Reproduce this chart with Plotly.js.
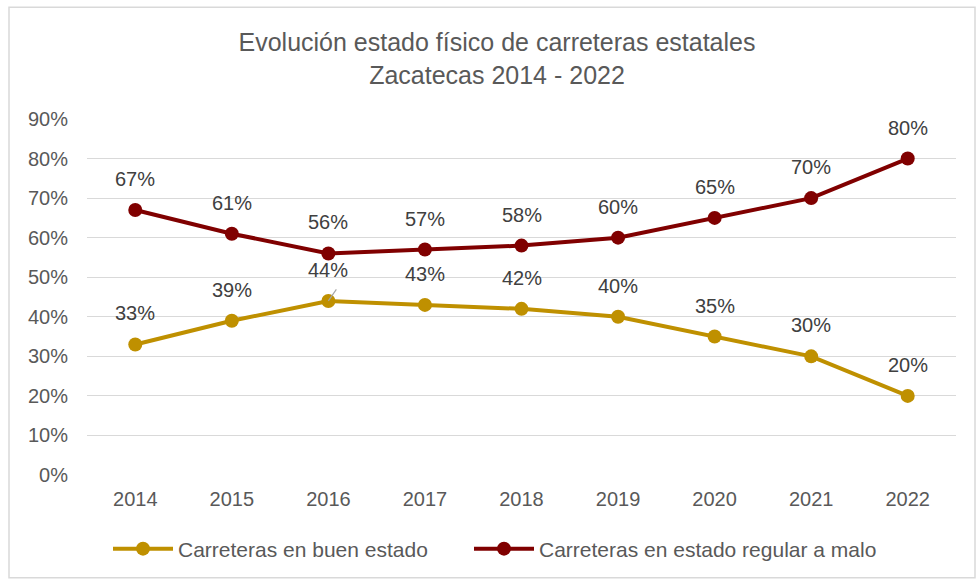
<!DOCTYPE html>
<html>
<head>
<meta charset="utf-8">
<script src="https://cdn.plot.ly/plotly-3.0.1.min.js"></script>
<style>
  html, body { margin: 0; padding: 0; background: #ffffff; }
  #chart { width: 976px; height: 580px; }
</style>
</head>
<body>
<div id="chart"></div>
<script>
const years = ['2014', '2015', '2016', '2017', '2018', '2019', '2020', '2021', '2022'];
const buenEstado = [0.33, 0.39, 0.44, 0.43, 0.42, 0.40, 0.35, 0.30, 0.20];
const regularMalo = [0.67, 0.61, 0.56, 0.57, 0.58, 0.60, 0.65, 0.70, 0.80];
const yTicks = [0, 0.1, 0.2, 0.3, 0.4, 0.5, 0.6, 0.7, 0.8, 0.9];
const seriesNames = ['Carreteras en buen estado', 'Carreteras en estado regular a malo'];
const titleText = 'Evolución estado físico de carreteras estatales<br>Zacatecas 2014 - 2022';

const gold = '#BF9000';
const red = '#800000';
const font = 'Liberation Sans, Arial, sans-serif';

function pct(v) { return Math.round(v * 100) + '%'; }

const traces = [
  {
    x: years, y: buenEstado, name: seriesNames[0], type: 'scatter', mode: 'lines+markers',
    line: { color: gold, width: 4 }, marker: { color: gold, size: 14 }, hoverinfo: 'skip',
    legend: 'legend'
  },
  {
    x: years, y: regularMalo, name: seriesNames[1], type: 'scatter', mode: 'lines+markers',
    line: { color: red, width: 4 }, marker: { color: red, size: 14 }, hoverinfo: 'skip',
    legend: 'legend2'
  }
];

const annotations = [];
[buenEstado, regularMalo].forEach(function (series) {
  series.forEach(function (v, i) {
    annotations.push({
      x: i, y: v, xref: 'x', yref: 'y', text: pct(v), showarrow: false,
      yshift: 31, font: { family: font, size: 20, color: '#404040' }
    });
  });
});
// leader line for 2016 "buen estado" label
annotations.push({
  x: 2, y: buenEstado[2], xref: 'x', yref: 'y', text: '', showarrow: true,
  arrowhead: 0, arrowwidth: 1.2, arrowcolor: '#A6A6A6', ax: 9, ay: -13, standoff: 0
});

const legendCommon = {
  orientation: 'h', xanchor: 'left', y: (476 - 549) / 357, yanchor: 'middle',
  font: { family: font, size: 21, color: '#595959' }, itemwidth: 60,
  bgcolor: 'rgba(0,0,0,0)'
};

const layout = {
  width: 976, height: 580,
  margin: { l: 87, r: 20, t: 119, b: 104 },
  paper_bgcolor: '#ffffff', plot_bgcolor: '#ffffff',
  title: {
    text: titleText, x: 497 / 976, xref: 'container', xanchor: 'center',
    y: 1 - 51 / 580, yref: 'container', yanchor: 'top',
    font: { family: font, size: 25, color: '#595959' }
  },
  xaxis: {
    type: 'category', range: [-0.5, 8.5], showgrid: false, zeroline: false, showline: false,
    ticks: '', ticklabelstandoff: 10, tickfont: { family: font, size: 20, color: '#595959' },
    fixedrange: true
  },
  yaxis: {
    range: [0, 0.9], tickvals: yTicks, ticktext: yTicks.map(pct),
    showgrid: true, gridcolor: '#D9D9D9', gridwidth: 1, zeroline: false, showline: false,
    ticks: '', ticklabelstandoff: 18, tickfont: { family: font, size: 20, color: '#595959' },
    fixedrange: true
  },
  showlegend: true,
  legend: Object.assign({}, legendCommon, { x: (108 - 87) / 869 }),
  legend2: Object.assign({}, legendCommon, { x: (469 - 87) / 869 }),
  annotations: annotations,
  shapes: [{
    type: 'rect', xref: 'paper', yref: 'paper',
    x0: (9 - 87) / 869, x1: (975 - 87) / 869,
    y0: (476 - 579) / 357, y1: (476 - 7) / 357,
    line: { color: '#D9D9D9', width: 1.5 }, fillcolor: 'rgba(0,0,0,0)', layer: 'below'
  }]
};

Plotly.newPlot('chart', traces, layout, { displayModeBar: false, staticPlot: true });
</script>
</body>
</html>
